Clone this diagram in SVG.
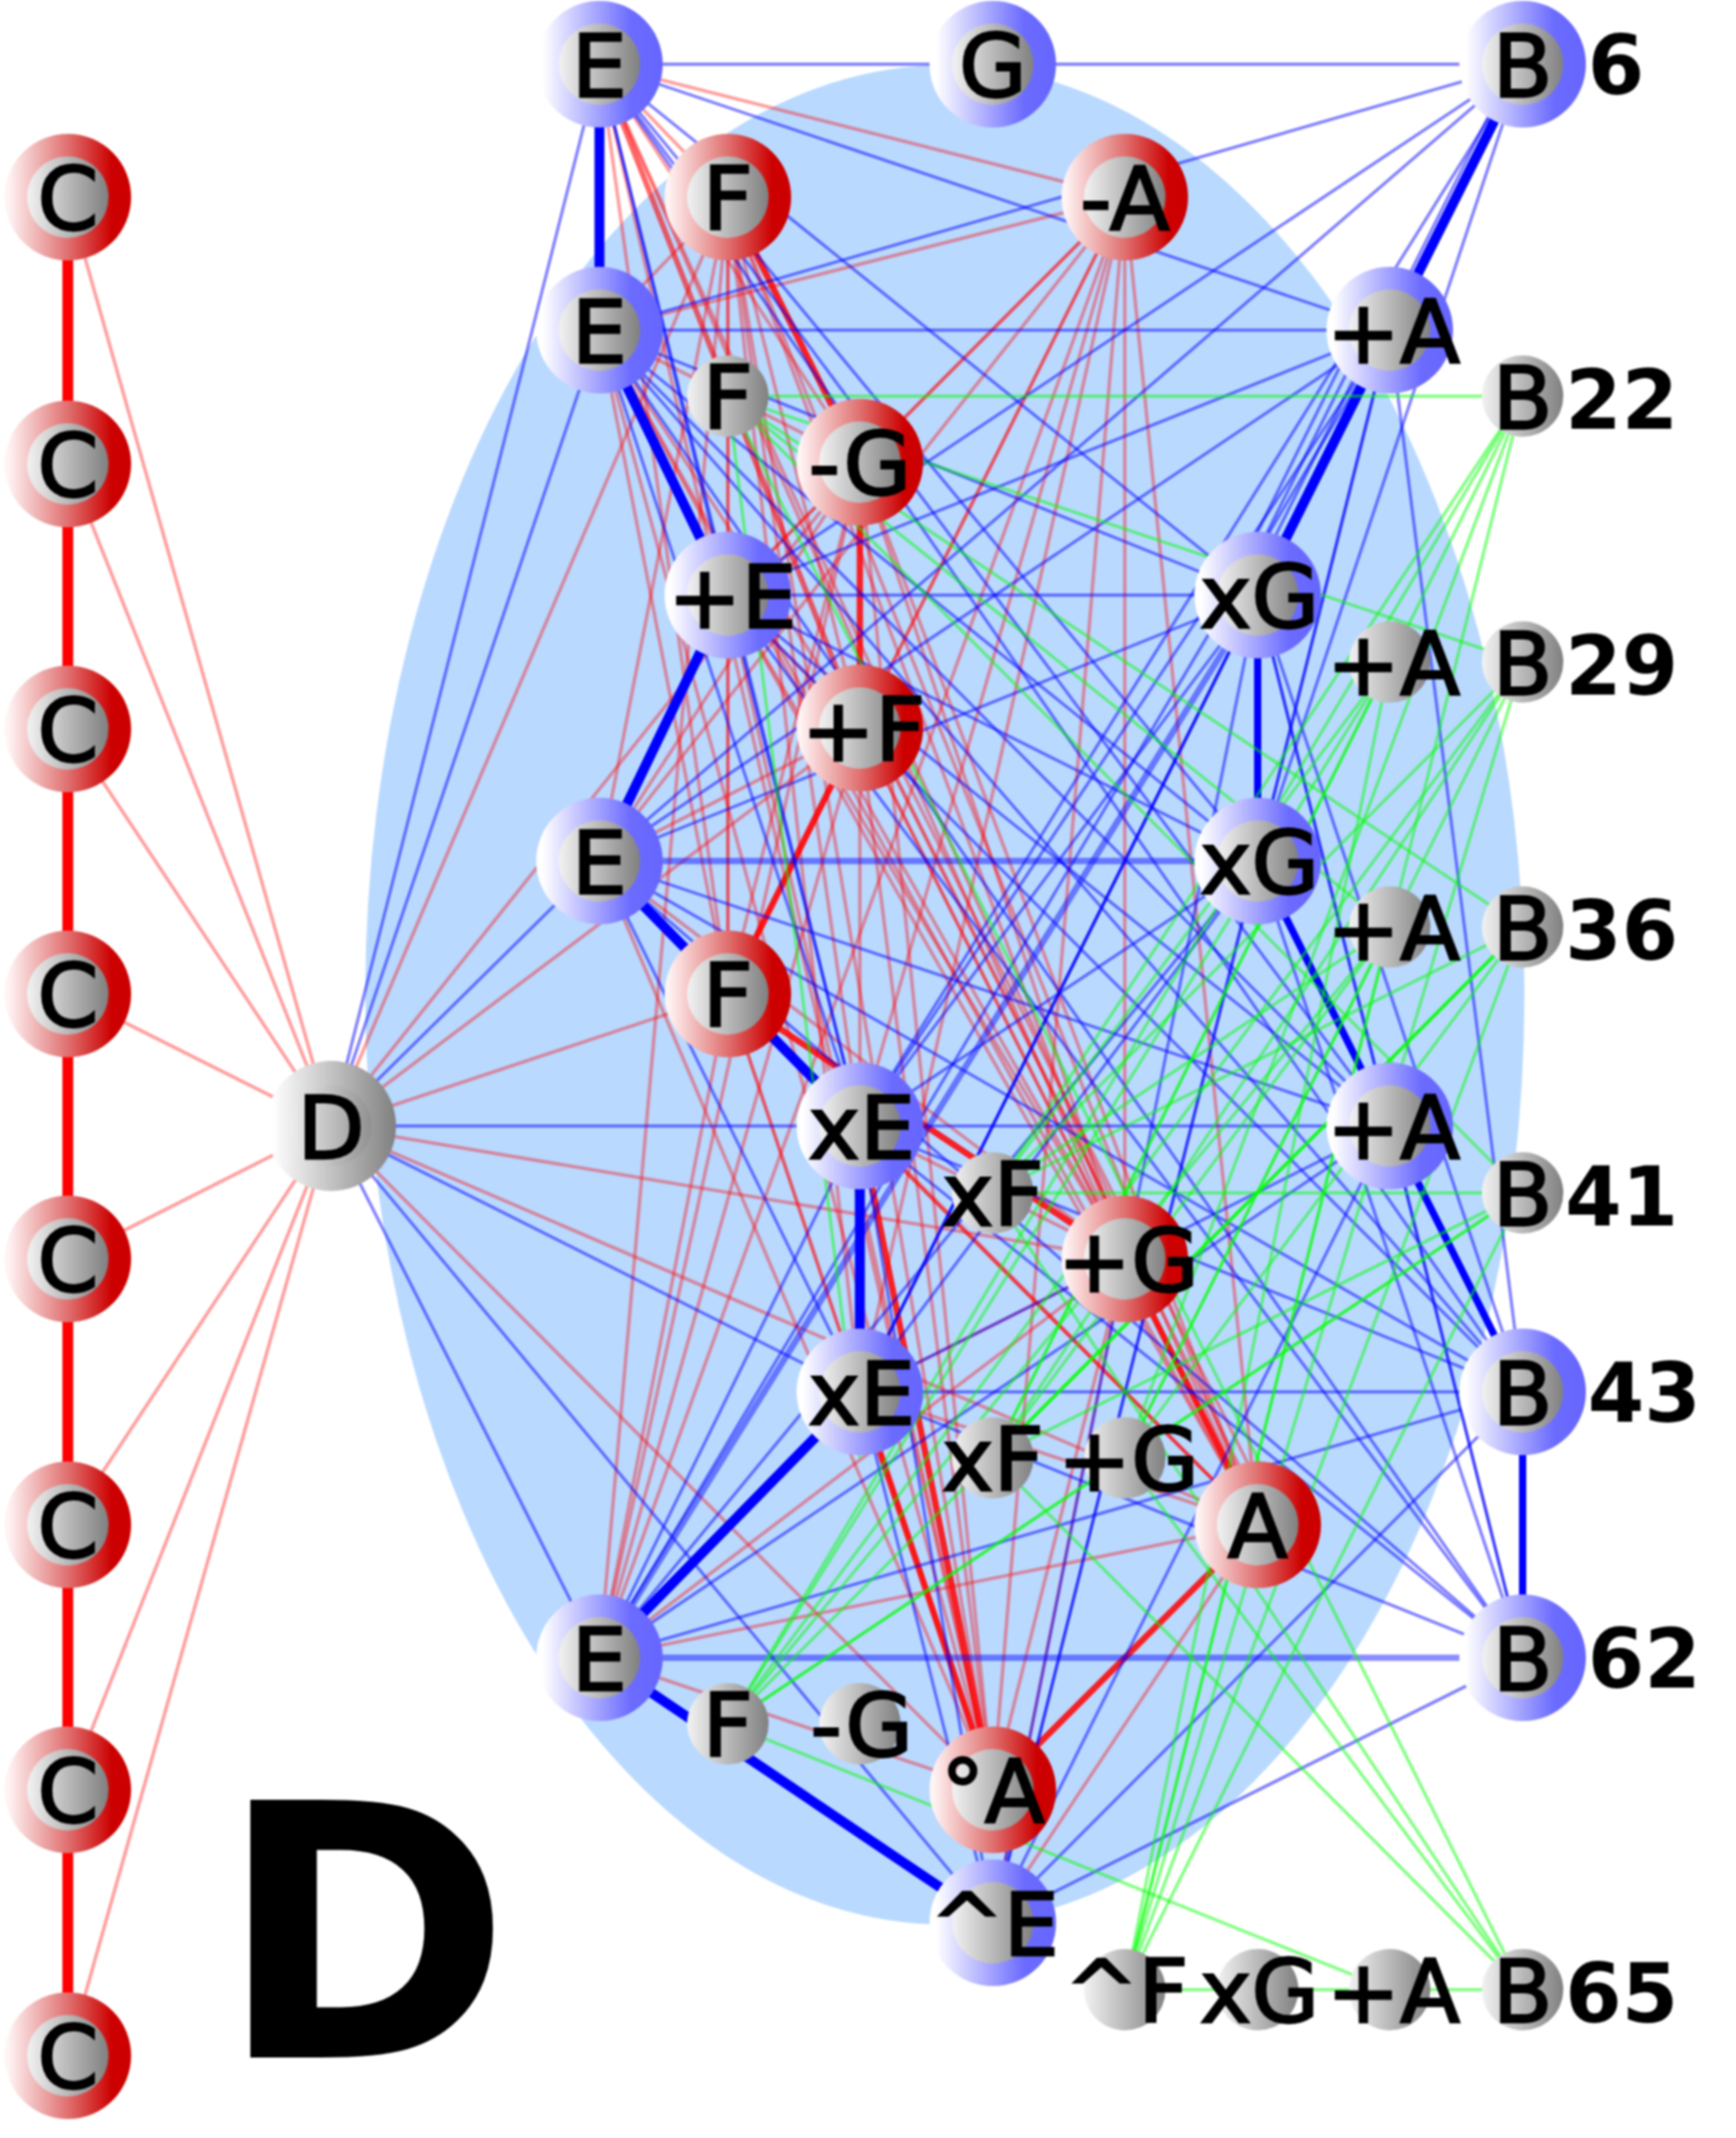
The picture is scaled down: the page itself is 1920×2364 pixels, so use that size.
<svg xmlns="http://www.w3.org/2000/svg" width="1920" height="2364" viewBox="0 0 1920 2364">
<style>
text{font-family:"DejaVu Sans",sans-serif;fill:#000;text-anchor:middle;font-size:97px;stroke:#000;stroke-width:2.4}
text.n{font-weight:bold;text-anchor:start;font-size:90px;stroke:none}
text.t{font-weight:bold;text-anchor:start;font-size:391px;stroke:none}
line,path{fill:none}
.b path{stroke:#0000ff;stroke-width:3.4;opacity:.5}
.r path{stroke:#ff0000;stroke-width:3.8;opacity:.38}
.g path{stroke:#00ff00;stroke-width:3.4;opacity:.5}
path.tb{stroke-width:11;opacity:1}
path.mb{stroke-width:7;opacity:.45}
path.tr{stroke-width:12;opacity:1}
path.mr{stroke-width:7;opacity:.85}
path.lr{stroke-width:6;opacity:.6}
path.mg{stroke-width:4;opacity:.75}
.nb{fill:url(#gb)}.nr{fill:url(#gr)}.nk{fill:url(#gk)}.nw{fill:url(#gw)}
</style>
<defs>
<linearGradient id="gb"><stop offset=".05" stop-color="#fff"/><stop offset=".75" stop-color="#6b6bff"/><stop offset="1" stop-color="#6666ff"/></linearGradient>
<linearGradient id="gr"><stop offset=".03" stop-color="#fff4f4"/><stop offset=".5" stop-color="#e07070"/><stop offset=".85" stop-color="#cc0000"/><stop offset="1" stop-color="#cc0000"/></linearGradient>
<linearGradient id="gk"><stop offset="0" stop-color="#f2f2f2"/><stop offset="1" stop-color="#808080"/></linearGradient>
<linearGradient id="gw"><stop offset=".05" stop-color="#fff"/><stop offset="1" stop-color="#808080"/></linearGradient>
<filter id="soft" filterUnits="userSpaceOnUse" x="0" y="0" width="1920" height="2364" color-interpolation-filters="sRGB"><feGaussianBlur stdDeviation="1.1"/></filter>
</defs>
<rect width="1920" height="2364" fill="#fff"/>
<g id="diagram" filter="url(#soft)">
<ellipse id="region" cx="1045" cy="1100" rx="641" ry="1028" fill="#b9d9ff"/>
<g id="connectors">
<g class="r">
<path d="M75 218L366 1245M75 513L366 1245M75 806L366 1245M75 1099L366 1245M75 1392L366 1245M75 1686L366 1245M75 1979L366 1245M75 2273L366 1245"/>
<path class="tr" d="M75 218V2273"/>
<path d="M366 1245L805 218"/><path d="M366 1245L951 511"/><path d="M366 1245L951 805"/><path d="M366 1245L805 1099"/><path d="M366 1245L1244 1392"/><path d="M366 1245L1391 1686"/><path d="M366 1245L1098 1979"/>
<path d="M663 71L1244 218"/><path d="M663 71L951 511"/><path d="M663 71L805 1099"/><path d="M663 71L1244 1392"/><path d="M663 71L1391 1686"/><path d="M663 71L1098 1979"/><path d="M663 71L805 218"/>
<path class="lr" d="M663 71L951 805"/>
<path d="M663 365L805 218"/><path d="M663 365L1244 218"/><path d="M663 365L951 511"/><path d="M663 365L951 805"/><path d="M663 365L805 1099"/><path d="M663 365L1244 1392"/><path d="M663 365L1391 1686"/><path d="M663 365L1098 1979"/><path d="M663 365L805 658"/>
<path d="M805 658L805 218"/><path d="M805 658L1244 218"/><path d="M805 658L951 511"/><path d="M805 658L951 805"/><path d="M805 658L805 1099"/><path d="M805 658L1244 1392"/><path d="M805 658L1391 1686"/><path d="M805 658L1098 1979"/>
<path d="M663 952L805 218"/><path d="M663 952L1244 218"/><path d="M663 952L951 511"/><path d="M663 952L951 805"/><path d="M663 952L805 1099"/><path d="M663 952L1244 1392"/><path d="M663 952L1391 1686"/><path d="M663 952L1098 1979"/>
<path d="M951 1245L805 218"/><path d="M951 1245L1244 218"/><path d="M951 1245L951 805"/><path d="M951 1245L805 1099"/><path d="M951 1245L1244 1392"/><path d="M951 1245L1391 1686"/><path class="mr" d="M951 1245L1098 1979"/><path class="mr" d="M951 1245L951 1539"/>
<path d="M951 1539L805 218"/><path d="M951 1539L1244 218"/><path d="M951 1539L805 1099"/><path d="M951 1539L1244 1392"/><path d="M951 1539L1391 1686"/><path class="mr" d="M951 1539L1098 1979"/>
<path d="M663 1833L805 218"/><path d="M663 1833L1244 218"/><path d="M663 1833L951 511"/><path d="M663 1833L951 805"/><path d="M663 1833L805 1099"/><path d="M663 1833L1244 1392"/><path d="M663 1833L1391 1686"/><path d="M663 1833L1098 1979"/>
<path d="M1098 2126L1391 1686"/><path d="M1098 2126L1244 1392"/>
<path d="M805 218L951 805"/><path d="M805 218L805 1099"/><path d="M805 218L1244 1392"/><path d="M805 218L1391 1686"/><path d="M805 218L1098 1979"/>
<path d="M1244 218L951 511"/><path d="M1244 218L951 805"/><path d="M1244 218L805 1099"/><path d="M1244 218L1244 1392"/><path d="M1244 218L1098 1979"/><path d="M1244 218L1391 1686"/>
<path d="M951 511L805 1099"/><path d="M951 511L1244 1392"/><path d="M951 511L1391 1686"/><path d="M951 511L1098 1979"/>
<path d="M951 805L1244 1392"/><path d="M951 805L1098 1979"/><path d="M805 1099L1391 1686"/><path d="M805 1099L1098 1979"/><path d="M1244 1392L1098 1979"/>
<path d="M951 805L1391 1686"/><path d="M951 805L1391 1686" transform="translate(8 -8)"/><path d="M951 805L1391 1686" transform="translate(16 -14)"/><path d="M951 805L1244 1392" transform="translate(10 -6)"/>
<path class="mr" d="M805 218L951 511"/><path class="mr" d="M951 511L951 805"/><path class="mr" d="M951 805L805 1099"/><path class="mr" d="M805 1099L1244 1392"/><path class="mr" d="M1244 1392L1391 1686"/><path class="mr" d="M1391 1686L1098 1979"/>
</g>
<g class="b">
<path d="M366 1245L663 71"/><path d="M366 1245L663 365"/><path d="M366 1245L663 952"/><path d="M366 1245L951 1245"/><path d="M366 1245L951 1539"/><path d="M366 1245L663 1833"/><path d="M366 1245L1098 2126"/>
<path d="M663 71L1684 71"/><path d="M663 71L1537 365"/><path d="M663 71L1391 658"/><path d="M663 71L1391 952"/><path d="M663 71L1537 1245"/><path d="M663 71L1684 1539"/><path d="M663 71L951 1245"/><path d="M663 71L805 658"/>
<path d="M663 365L1537 365"/><path d="M663 365L1684 71"/><path d="M663 365L1391 658"/><path d="M663 365L1391 952"/><path d="M663 365L1537 1245"/><path d="M663 365L1684 1539"/><path d="M663 365L1684 1833"/><path d="M663 365L951 1245"/>
<path d="M805 658L1391 658"/><path d="M805 658L1684 71"/><path d="M805 658L1537 365"/><path d="M805 658L1391 952"/><path d="M805 658L1537 1245"/><path d="M805 658L1684 1539"/><path d="M805 658L1684 1833"/><path d="M805 658L951 1245"/>
<path class="mb" d="M663 952L1391 952"/><path d="M663 952L1684 71"/><path d="M663 952L1537 365"/><path d="M663 952L1391 658"/><path d="M663 952L1537 1245"/><path d="M663 952L1684 1539"/><path d="M663 952L1684 1833"/><path d="M663 952L951 1245"/><path d="M663 952L951 1539"/>
<path d="M951 1245L1537 1245"/><path d="M951 1245L1684 71"/><path d="M951 1245L1537 365"/><path d="M951 1245L1391 658"/><path d="M951 1245L1391 952"/><path d="M951 1245L1684 1539"/><path d="M951 1245L1684 1833"/>
<path d="M951 1539L1684 1539"/><path d="M951 1539L1537 1245"/><path d="M951 1539L1391 952"/><path d="M951 1539L1391 658"/><path d="M951 1539L1537 365"/><path d="M951 1539L1684 1833"/><path d="M951 1539L1684 71"/>
<path class="mb" d="M663 1833L1684 1833"/><path d="M663 1833L1684 1539"/><path d="M663 1833L1537 1245"/><path d="M663 1833L1391 952"/><path class="mb" d="M663 1833L1391 658"/><path d="M663 1833L1537 365"/><path d="M663 1833L951 1245"/>
<path d="M1098 2126L1684 1833"/><path d="M1098 2126L1684 1539"/><path d="M1098 2126L1537 1245"/><path d="M1098 2126L1391 952"/><path d="M1098 2126L1391 658"/><path d="M1098 2126L1537 365"/><path d="M1098 2126L951 1245"/><path d="M1098 2126L951 1539"/>
<path d="M1684 71L1391 658"/><path d="M1684 71L1391 952"/><path d="M1684 71L1537 365" transform="translate(-8 -2)"/>
<path d="M1537 365L1391 952"/><path d="M1537 365L1684 1539"/><path d="M1537 365L1391 658" transform="translate(-10 -6)"/><path d="M1537 365L1391 658" transform="translate(-20 -8)"/><path d="M1537 365L1391 658" transform="translate(-30 -10)"/>
<path d="M1391 658L1537 1245"/><path d="M1391 658L1684 1539"/><path d="M1391 658L1684 1833"/><path d="M1391 952L1684 1539"/><path d="M1391 952L1684 1833"/><path d="M1537 1245L1684 1833"/>
<path class="tb" d="M663 71L663 365L805 658L663 952L951 1245L951 1539L663 1833L1098 2126"/>
<path class="tb" d="M1684 71L1537 365L1391 658"/>
<path class="tb" style="stroke-width:8" d="M1391 658L1391 952L1537 1245L1684 1539L1684 1833"/>
</g>
<g class="g">
<path d="M805 438L1684 438"/><path d="M805 438L1684 732"/><path d="M805 438L1684 1025"/><path d="M805 438L1684 1319"/><path d="M805 438L1684 2200"/><path d="M805 438L1537 1025"/><path d="M805 438L951 1612"/>
<path d="M1684 438L805 1906"/><path d="M1684 438L1098 1319"/><path d="M1684 438L1098 1612"/><path d="M1684 438L1244 1612"/><path d="M1684 438L1244 2200"/>
<path d="M1684 732L805 1906"/><path d="M1684 732L1098 1319"/><path d="M1684 732L1098 1612"/><path d="M1684 732L1244 1612"/><path d="M1684 732L1244 2200"/>
<path class="mg" d="M1684 1025L1098 1612"/><path d="M1684 1025L805 1906"/><path d="M1684 1025L1098 1319"/><path d="M1684 1025L1244 1612"/><path d="M1684 1025L1244 2200"/>
<path d="M1684 1319L1098 1319"/><path d="M1684 1319L805 1906"/><path d="M1684 1319L1098 1612"/><path d="M1684 1319L1244 1612"/><path d="M1684 1319L1244 2200"/>
<path d="M1537 732L805 1906"/><path d="M1537 732L1098 1612"/><path d="M1537 732L1244 2200"/><path d="M1537 1025L805 1906"/><path d="M1537 1025L1098 1319"/><path d="M1537 1025L1098 1612"/><path d="M1537 1025L1244 2200"/>
<path d="M1537 732L1098 1319"/><path d="M1537 1025L1244 1612"/>
<path d="M1684 2200L1098 1612"/><path d="M1684 2200L1098 1319"/><path d="M1684 2200L1244 1612"/><path d="M805 1906L1537 2200"/><path d="M1244 2200L1684 2200"/>
<path d="M805 1906L1244 1612"/>
</g>
</g>
<g id="C1"><circle class="nr" cx="75" cy="218" r="70"/><circle class="nk" cx="75" cy="218" r="45"/><text x="75" y="254">C</text></g>
<g id="C2"><circle class="nr" cx="75" cy="513" r="70"/><circle class="nk" cx="75" cy="513" r="45"/><text x="75" y="549">C</text></g>
<g id="C3"><circle class="nr" cx="75" cy="806" r="70"/><circle class="nk" cx="75" cy="806" r="45"/><text x="75" y="842">C</text></g>
<g id="C4"><circle class="nr" cx="75" cy="1099" r="70"/><circle class="nk" cx="75" cy="1099" r="45"/><text x="75" y="1135">C</text></g>
<g id="C5"><circle class="nr" cx="75" cy="1392" r="70"/><circle class="nk" cx="75" cy="1392" r="45"/><text x="75" y="1428">C</text></g>
<g id="C6"><circle class="nr" cx="75" cy="1686" r="70"/><circle class="nk" cx="75" cy="1686" r="45"/><text x="75" y="1722">C</text></g>
<g id="C7"><circle class="nr" cx="75" cy="1979" r="70"/><circle class="nk" cx="75" cy="1979" r="45"/><text x="75" y="2015">C</text></g>
<g id="C8"><circle class="nr" cx="75" cy="2273" r="70"/><circle class="nk" cx="75" cy="2273" r="45"/><text x="75" y="2309">C</text></g>
<g id="D"><circle class="nw" cx="366" cy="1245" r="72"/><circle class="nk" cx="366" cy="1245" r="45" opacity=".35"/><text x="366" y="1281">D</text></g>
<g id="E0"><circle class="nb" cx="663" cy="71" r="70"/><circle class="nk" cx="663" cy="71" r="45"/><text x="663" y="107">E</text></g>
<g id="G0"><circle class="nb" cx="1098" cy="71" r="70"/><circle class="nk" cx="1098" cy="71" r="45"/><text x="1098" y="107">G</text></g>
<g id="B6"><circle class="nb" cx="1684" cy="71" r="70"/><circle class="nk" cx="1684" cy="71" r="45"/><text x="1684" y="107">B</text><text class="n" x="1756" y="104">6</text></g>
<g id="F2"><circle class="nr" cx="805" cy="218" r="70"/><circle class="nk" cx="805" cy="218" r="45"/><text x="805" y="254">F</text></g>
<g id="MA2"><circle class="nr" cx="1244" cy="218" r="70"/><circle class="nk" cx="1244" cy="218" r="45"/><text x="1244" y="254">-A</text></g>
<g id="E4"><circle class="nb" cx="663" cy="365" r="70"/><circle class="nk" cx="663" cy="365" r="45"/><text x="663" y="401">E</text></g>
<g id="A4"><circle class="nb" cx="1537" cy="365" r="70"/><circle class="nk" cx="1537" cy="365" r="45"/><text x="1541" y="401">+A</text></g>
<g id="F5"><circle class="nk" cx="805" cy="438" r="45"/><text x="805" y="474">F</text></g>
<g id="B22"><circle class="nk" cx="1684" cy="438" r="45"/><text x="1684" y="474">B</text><text class="n" x="1731" y="474">22</text></g>
<g id="MG6"><circle class="nr" cx="951" cy="511" r="70"/><circle class="nk" cx="951" cy="511" r="45"/><text x="951" y="547">-G</text></g>
<g id="PE8"><circle class="nb" cx="805" cy="658" r="70"/><circle class="nk" cx="805" cy="658" r="45"/><text x="810" y="694">+E</text></g>
<g id="XG8"><circle class="nb" cx="1391" cy="658" r="70"/><circle class="nk" cx="1391" cy="658" r="45"/><text x="1393" y="694">xG</text></g>
<g id="A9"><circle class="nk" cx="1537" cy="732" r="45"/><text x="1541" y="768">+A</text></g>
<g id="B29"><circle class="nk" cx="1684" cy="732" r="45"/><text x="1684" y="768">B</text><text class="n" x="1731" y="768">29</text></g>
<g id="PF10"><circle class="nr" cx="951" cy="805" r="70"/><circle class="nk" cx="951" cy="805" r="45"/><text x="955" y="841">+F</text></g>
<g id="E12"><circle class="nb" cx="663" cy="952" r="70"/><circle class="nk" cx="663" cy="952" r="45"/><text x="663" y="988">E</text></g>
<g id="XG12"><circle class="nb" cx="1391" cy="952" r="70"/><circle class="nk" cx="1391" cy="952" r="45"/><text x="1393" y="988">xG</text></g>
<g id="A13"><circle class="nk" cx="1537" cy="1025" r="45"/><text x="1541" y="1061">+A</text></g>
<g id="B36"><circle class="nk" cx="1684" cy="1025" r="45"/><text x="1684" y="1061">B</text><text class="n" x="1731" y="1061">36</text></g>
<g id="F14"><circle class="nr" cx="805" cy="1099" r="70"/><circle class="nk" cx="805" cy="1099" r="45"/><text x="805" y="1135">F</text></g>
<g id="XE16"><circle class="nb" cx="951" cy="1245" r="70"/><circle class="nk" cx="951" cy="1245" r="45"/><text x="953" y="1281">xE</text></g>
<g id="A16"><circle class="nb" cx="1537" cy="1245" r="70"/><circle class="nk" cx="1537" cy="1245" r="45"/><text x="1541" y="1281">+A</text></g>
<g id="XF17"><circle class="nk" cx="1098" cy="1319" r="45"/><text x="1098" y="1355">xF</text></g>
<g id="B41"><circle class="nk" cx="1684" cy="1319" r="45"/><text x="1684" y="1355">B</text><text class="n" x="1731" y="1355">41</text></g>
<g id="PG18"><circle class="nr" cx="1244" cy="1392" r="70"/><circle class="nk" cx="1244" cy="1392" r="45"/><text x="1248" y="1428">+G</text></g>
<g id="XE20"><circle class="nb" cx="951" cy="1539" r="70"/><circle class="nk" cx="951" cy="1539" r="45"/><text x="953" y="1575">xE</text></g>
<g id="B43"><circle class="nb" cx="1684" cy="1539" r="70"/><circle class="nk" cx="1684" cy="1539" r="45"/><text x="1684" y="1575">B</text><text class="n" x="1756" y="1572">43</text></g>
<g id="XF21"><circle class="nk" cx="1098" cy="1612" r="45"/><text x="1098" y="1648">xF</text></g>
<g id="PG21"><circle class="nk" cx="1244" cy="1612" r="45"/><text x="1248" y="1648">+G</text></g>
<g id="A22"><circle class="nr" cx="1391" cy="1686" r="70"/><circle class="nk" cx="1391" cy="1686" r="45"/><text x="1391" y="1722">A</text></g>
<g id="E24"><circle class="nb" cx="663" cy="1833" r="70"/><circle class="nk" cx="663" cy="1833" r="45"/><text x="663" y="1869">E</text></g>
<g id="B62"><circle class="nb" cx="1684" cy="1833" r="70"/><circle class="nk" cx="1684" cy="1833" r="45"/><text x="1684" y="1869">B</text><text class="n" x="1756" y="1866">62</text></g>
<g id="F25"><circle class="nk" cx="805" cy="1906" r="45"/><text x="805" y="1942">F</text></g>
<g id="MG25"><circle class="nk" cx="951" cy="1906" r="45"/><text x="953" y="1942">-G</text></g>
<g id="OA26"><circle class="nr" cx="1098" cy="1979" r="70"/><circle class="nk" cx="1098" cy="1979" r="45"/><text x="1098" y="2015">°A</text></g>
<g id="HE28"><circle class="nb" cx="1098" cy="2126" r="70"/><circle class="nk" cx="1098" cy="2126" r="45"/><text x="1100" y="2162">^E</text></g>
<g id="HF29"><circle class="nk" cx="1244" cy="2200" r="45"/><text x="1246" y="2236">^F</text></g>
<g id="XG29"><circle class="nk" cx="1391" cy="2200" r="45"/><text x="1393" y="2236">xG</text></g>
<g id="A29"><circle class="nk" cx="1537" cy="2200" r="45"/><text x="1541" y="2236">+A</text></g>
<g id="B65"><circle class="nk" cx="1684" cy="2200" r="45"/><text x="1684" y="2236">B</text><text class="n" x="1731" y="2236">65</text></g>
<text id="panel" class="t" x="241" y="2275">D</text>
</g>
</svg>
